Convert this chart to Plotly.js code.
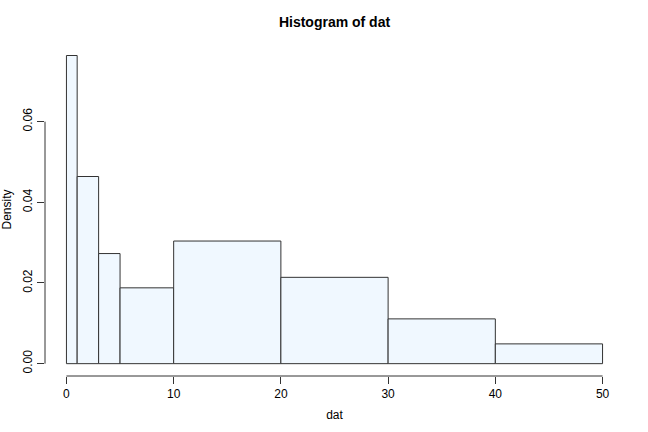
<!DOCTYPE html>
<html>
<head>
<meta charset="utf-8">
<script src="https://cdn.plot.ly/plotly-3.0.1.min.js"></script>
<style>html,body{margin:0;padding:0;background:#fff;}#chart{width:648px;height:432px;}</style>
</head>
<body>
<div id="chart"></div>
<script>
var breaks = [0, 1, 3, 5, 10, 20, 30, 40, 50];
var density = [0.0764, 0.0464, 0.0273, 0.0188, 0.0304, 0.0214, 0.0111, 0.0049];
var xTicks = [0, 10, 20, 30, 40, 50];
var yTicks = [0, 0.02, 0.04, 0.06];
var yTickLabels = ["0.00", "0.02", "0.04", "0.06"];

var mids = [], widths = [];
for (var i = 0; i < density.length; i++) {
  mids.push((breaks[i] + breaks[i + 1]) / 2);
  widths.push(breaks[i + 1] - breaks[i]);
}

var fontFam = "'Liberation Sans', Arial, Helvetica, sans-serif";

var trace = {
  type: 'bar',
  x: mids,
  y: density,
  width: widths,
  marker: {color: '#F0F8FF', line: {color: '#333333', width: 1}},
  hoverinfo: 'x+y'
};

var layout = {
  width: 648, height: 432,
  margin: {l: 44.5, r: 23.5, t: 43.3, b: 55.7},
  paper_bgcolor: '#ffffff', plot_bgcolor: '#ffffff',
  showlegend: false,
  font: {family: fontFam, size: 12, color: '#000'},
  title: {text: 'Histogram of dat', font: {family: fontFam, size: 14, color: '#000', weight: 'bold'},
          x: 0.5, xanchor: 'center', xref: 'paper', y: 1 - 22/432, yref: 'container', yanchor: 'middle'},
  xaxis: {
    range: [-2, 52], tickvals: xTicks, ticktext: xTicks.map(String),
    ticks: 'outside', ticklen: 7, tickwidth: 1, tickcolor: '#333',
    showgrid: false, zeroline: false, showline: false,
    tickfont: {size: 12, color: '#000'},
    title: {text: 'dat', font: {size: 12, color: '#000'}, standoff: 10}
  },
  yaxis: {
    range: [-0.00306, 0.0795], tickvals: yTicks, ticktext: yTickLabels,
    ticks: 'outside', ticklen: 7, tickwidth: 1, tickcolor: '#333', tickangle: -90,
    showgrid: false, zeroline: false, showline: false,
    tickfont: {size: 12, color: '#000'},
    title: {text: 'Density', font: {size: 12, color: '#000'}, standoff: 8}
  },
  shapes: [
    {type: 'line', xref: 'x', yref: 'paper', x0: xTicks[0], x1: xTicks[xTicks.length - 1], y0: 0, y1: 0,
     line: {color: '#333', width: 1}},
    {type: 'line', xref: 'paper', yref: 'y', x0: 0, x1: 0, y0: yTicks[0], y1: yTicks[yTicks.length - 1],
     line: {color: '#333', width: 1}}
  ]
};

Plotly.newPlot('chart', [trace], layout, {displayModeBar: false, staticPlot: true});
</script>
</body>
</html>
